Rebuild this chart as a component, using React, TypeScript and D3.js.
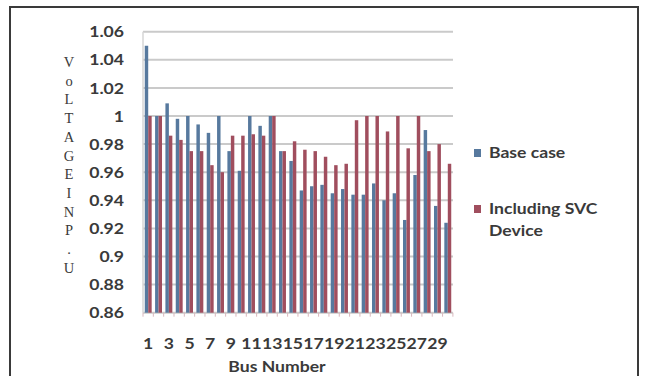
import React from "react";
import * as d3 from "d3";

// Bus voltage profile, 30-bus system (p.u.)
const buses = d3.range(1, 31).map(String);
const baseCase = [
  1.05, 1.0, 1.009, 0.998, 1.0, 0.994, 0.988, 1.0, 0.975, 0.961,
  1.0, 0.993, 1.0, 0.975, 0.968, 0.947, 0.95, 0.951, 0.945, 0.948,
  0.944, 0.944, 0.952, 0.94, 0.945, 0.926, 0.958, 0.99, 0.936, 0.924,
];
const withSvc = [
  1.0, 1.0, 0.986, 0.983, 0.975, 0.975, 0.965, 0.96, 0.986, 0.986,
  0.987, 0.986, 1.0, 0.975, 0.982, 0.976, 0.975, 0.971, 0.965, 0.966,
  0.997, 1.0, 1.0, 0.989, 1.0, 0.977, 1.0, 0.975, 0.98, 0.966,
];
const yTicks = [0.86, 0.88, 0.9, 0.92, 0.94, 0.96, 0.98, 1.0, 1.02, 1.04, 1.06];
const seriesNames = ["Base case", "Including SVC", "Device"];
const seriesColors = ["#57799e", "#a04e5e"];
const yTitle = ["V", "o", "L", "T", "A", "G", "E", "I", "N", "P", ".", "U"];

const W = 646;
const H = 376;
const plot = { left: 143, right: 453, top: 31.7, bottom: 312.7 };
const font = "Lato, 'Open Sans', sans-serif";
const textColor = "#3a3a3a";

// Bold label, slightly widened horizontally
function Label(props: {
  x: number;
  y: number;
  anchor?: "start" | "middle" | "end";
  children: React.ReactNode;
}) {
  return (
    <g transform={`translate(${props.x},${props.y}) scale(1.1,1)`}>
      <text
        x={0}
        y={0}
        dy="0.35em"
        textAnchor={props.anchor ?? "start"}
        fontFamily={font}
        fontWeight="bold"
        fontSize={16}
        fill={textColor}
      >
        {props.children}
      </text>
    </g>
  );
}

export default function App() {
  const x = d3
    .scaleBand<string>()
    .domain(buses)
    .range([plot.left, plot.right])
    .paddingInner(0.33)
    .paddingOuter(0.17);
  const step = x.step();
  const sub = d3.scaleBand<number>().domain([0, 1]).range([0, x.bandwidth()]);
  const y = d3.scaleLinear().domain([0.86, 1.06]).range([plot.bottom, plot.top]);
  const series = [baseCase, withSvc];
  const fmt = (v: number) => String(+v.toFixed(2));

  return (
    <svg
      width={W}
      height={H}
      style={{ position: "absolute", left: 0, top: 0, background: "#fff" }}
    >
      <rect x={0} y={0} width={W} height={H} fill="#fff" />
      {/* outer frame */}
      <rect
        x={10}
        y={7}
        width={628}
        height={H + 10}
        fill="none"
        stroke="#3a3a3a"
        strokeWidth={2}
      />

      {/* gridlines */}
      {yTicks.map((t) => (
        <line
          key={t}
          x1={plot.left}
          x2={plot.right}
          y1={y(t)}
          y2={y(t)}
          stroke="#cacaca"
          strokeWidth={2}
        />
      ))}
      <line
        x1={plot.left}
        x2={plot.left}
        y1={plot.top}
        y2={plot.bottom}
        stroke="#d6d6d6"
        strokeWidth={1.5}
      />

      {/* bars */}
      {series.map((vals, si) =>
        vals.map((v, i) => {
          const bx = (x(buses[i]) as number) + (sub(si) as number);
          return (
            <rect
              key={`${si}-${i}`}
              x={bx}
              y={y(v)}
              width={sub.bandwidth()}
              height={y(0.86) - y(v)}
              fill={seriesColors[si]}
            />
          );
        })
      )}

      {/* category ticks */}
      {d3.range(0, buses.length + 1).map((i) => {
        const tx = plot.left + i * step;
        return (
          <line
            key={i}
            x1={tx}
            x2={tx}
            y1={plot.bottom}
            y2={plot.bottom + 4}
            stroke="#d9b8be"
            strokeWidth={1}
          />
        );
      })}

      {/* y tick labels */}
      {yTicks.map((t) => (
        <Label key={t} x={124} y={y(t)} anchor="end">
          {fmt(t)}
        </Label>
      ))}

      {/* x tick labels */}
      {buses
        .filter((_, i) => i % 2 === 0)
        .map((b) => (
          <Label
            key={b}
            x={(x(b) as number) + x.bandwidth() / 2}
            y={343}
            anchor="middle"
          >
            {b}
          </Label>
        ))}

      {/* axis titles */}
      <Label x={277} y={366} anchor="middle">
        Bus Number
      </Label>
      {yTitle.map((c, i) => (
        <text
          key={i}
          x={69}
          y={62 + i * 18.7}
          dy="0.35em"
          textAnchor="middle"
          fontFamily="'Liberation Serif', 'DejaVu Serif', serif"
          fontSize={14.5}
          fill={textColor}
        >
          {c}
        </text>
      ))}

      {/* legend */}
      <rect x={474} y={149} width={7} height={8} fill={seriesColors[0]} />
      <Label x={489} y={152}>
        {seriesNames[0]}
      </Label>
      <rect x={474} y={205} width={7} height={8} fill={seriesColors[1]} />
      <Label x={489} y={208}>
        {seriesNames[1]}
      </Label>
      <Label x={489} y={230}>
        {seriesNames[2]}
      </Label>
    </svg>
  );
}
